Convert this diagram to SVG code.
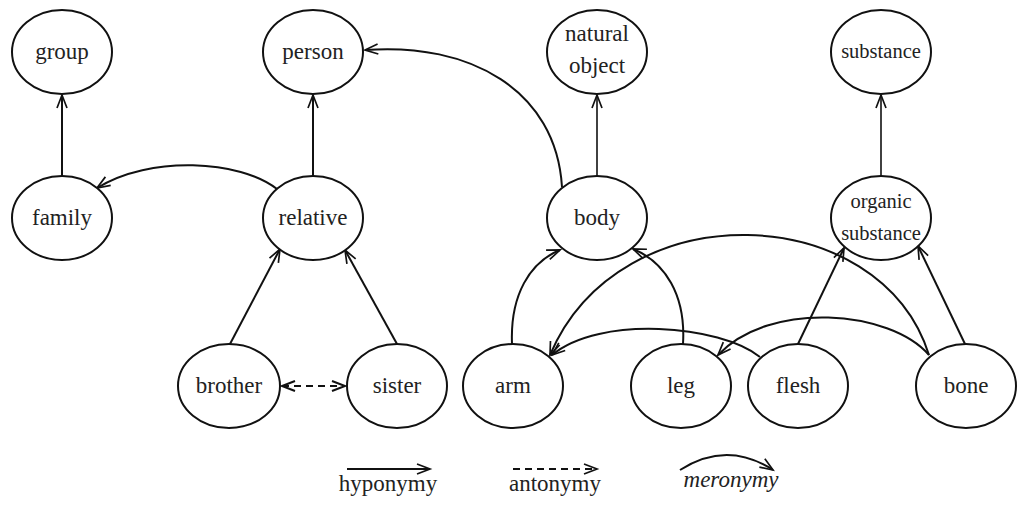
<svg xmlns="http://www.w3.org/2000/svg" width="1024" height="506" viewBox="0 0 1024 506">
<style>
.node ellipse{fill:#fff;stroke:#111;stroke-width:2}
text{font-family:'Liberation Serif','Times New Roman','DejaVu Serif',serif;font-size:23px;fill:#222;text-anchor:middle}
text.sm{font-size:20.5px}
.edge{fill:none;stroke:#111;stroke-width:2}
.thin{stroke-width:1.6}
.dash{stroke-dasharray:7,5}
</style>
<defs>
<marker id="ah" markerUnits="userSpaceOnUse" markerWidth="16" markerHeight="12" refX="13" refY="5" orient="auto" overflow="visible">
<path d="M0,0 L13,5 L0,10" fill="none" stroke="#111" stroke-width="1.7"/>
</marker>
<marker id="ahs" markerUnits="userSpaceOnUse" markerWidth="16" markerHeight="12" refX="13" refY="5" orient="auto-start-reverse" overflow="visible">
<path d="M0,0 L13,5 L0,10" fill="none" stroke="#111" stroke-width="2"/>
</marker>
</defs>
<rect width="1024" height="506" fill="#fff"/>
<g id="connectors">
<path class="edge" d="M62,176 L62,95" marker-end="url(#ah)"/>
<path class="edge" d="M313,176 L313,95" marker-end="url(#ah)"/>
<path class="edge thin" d="M597,176 L597,95" marker-end="url(#ah)"/>
<path class="edge thin" d="M881,176 L881,95" marker-end="url(#ah)"/>
<path class="edge" d="M230,344 L280,249" marker-end="url(#ah)"/>
<path class="edge" d="M397,344 L345,250" marker-end="url(#ah)"/>
<path class="edge dash" d="M282,386 L345,386" marker-start="url(#ahs)" marker-end="url(#ahs)"/>
<path class="edge" d="M277,189 C240,160 150,155 97,188" marker-end="url(#ah)"/>
<path class="edge" d="M562,187 C556,90 470,42 365,50" marker-end="url(#ah)"/>
<path class="edge" d="M512,344 C510,295 530,262 560,250" marker-end="url(#ah)"/>
<path class="edge" d="M683,344 C686,295 665,262 633,249" marker-end="url(#ah)"/>
<path class="edge" d="M929,355 C880,200 620,190 550,355" marker-end="url(#ah)"/>
<path class="edge" d="M760,357 C720,325 600,315 552,355" marker-end="url(#ah)"/>
<path class="edge" d="M929,355 C890,310 770,300 718,355" marker-end="url(#ah)"/>
<path class="edge" d="M798,344 L844,248" marker-end="url(#ah)"/>
<path class="edge" d="M965,344 L918,246" marker-end="url(#ah)"/>
</g>
<g id="group" class="node"><ellipse cx="62" cy="52" rx="50" ry="42"/><text x="62" y="59" font-family="Liberation Serif, serif">group</text></g>
<g id="person" class="node"><ellipse cx="313" cy="52" rx="50" ry="42"/><text x="313" y="59" font-family="Liberation Serif, serif">person</text></g>
<g id="natural-object" class="node"><ellipse cx="597" cy="52" rx="50" ry="42"/><text x="597" y="41" font-family="Liberation Serif, serif">natural</text><text x="597" y="73" font-family="Liberation Serif, serif">object</text></g>
<g id="substance" class="node"><ellipse cx="881" cy="52" rx="50" ry="42"/><text class="sm" x="881" y="58" font-family="Liberation Serif, serif">substance</text></g>
<g id="family" class="node"><ellipse cx="62" cy="218" rx="50" ry="42"/><text x="62" y="225" font-family="Liberation Serif, serif">family</text></g>
<g id="relative" class="node"><ellipse cx="313" cy="218" rx="50" ry="42"/><text x="313" y="225" font-family="Liberation Serif, serif">relative</text></g>
<g id="body" class="node"><ellipse cx="597" cy="218" rx="50" ry="42"/><text x="597" y="225" font-family="Liberation Serif, serif">body</text></g>
<g id="organic-substance" class="node"><ellipse cx="881" cy="218" rx="50" ry="42"/><text class="sm" x="881" y="208" font-family="Liberation Serif, serif">organic</text><text class="sm" x="881" y="240" font-family="Liberation Serif, serif">substance</text></g>
<g id="brother" class="node"><ellipse cx="229" cy="386" rx="51" ry="42"/><text x="229" y="393" font-family="Liberation Serif, serif">brother</text></g>
<g id="sister" class="node"><ellipse cx="397" cy="386" rx="50" ry="42"/><text x="397" y="393" font-family="Liberation Serif, serif">sister</text></g>
<g id="arm" class="node"><ellipse cx="513" cy="386" rx="50" ry="42"/><text x="513" y="393" font-family="Liberation Serif, serif">arm</text></g>
<g id="leg" class="node"><ellipse cx="681" cy="386" rx="50" ry="42"/><text x="681" y="393" font-family="Liberation Serif, serif">leg</text></g>
<g id="flesh" class="node"><ellipse cx="798" cy="386" rx="50" ry="42"/><text x="798" y="393" font-family="Liberation Serif, serif">flesh</text></g>
<g id="bone" class="node"><ellipse cx="966" cy="386" rx="50" ry="42"/><text x="966" y="393" font-family="Liberation Serif, serif">bone</text></g>
<g id="legend">
<path class="edge" d="M347,469 L430,469" marker-end="url(#ah)"/>
<text x="388" y="491" font-family="Liberation Serif, serif">hyponymy</text>
<path class="edge dash" d="M513,469 L597,469" marker-end="url(#ah)"/>
<text x="555" y="491" font-family="Liberation Serif, serif">antonymy</text>
<path class="edge" d="M680,470 Q727,440 773,470" marker-end="url(#ah)"/>
<text x="731" y="487" font-style="italic" font-family="Liberation Serif, serif">meronymy</text>
</g>
</svg>
